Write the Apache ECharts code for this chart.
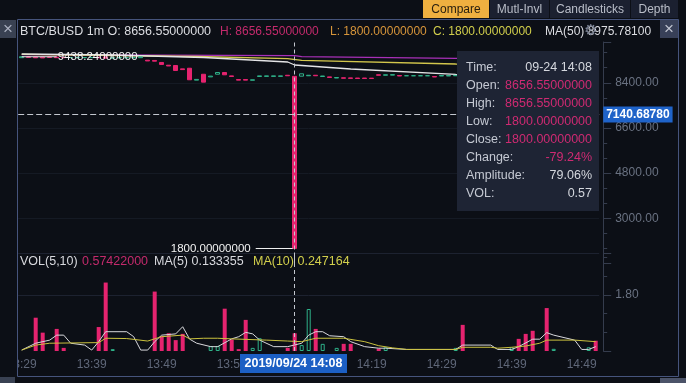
<!DOCTYPE html>
<html><head><meta charset="utf-8">
<script src="https://cdn.jsdelivr.net/npm/echarts@6/dist/echarts.min.js"></script>
<style>html,body{margin:0;padding:0;background:#0c0f16;}#c{width:686px;height:383px;}</style>
</head><body><div id="c"></div><script>
const categories = [
'13:29','13:30','13:31','13:32','13:33','13:34','13:35','13:36','13:37','13:38',
'13:39','13:40','13:41','13:42','13:43','13:44','13:45','13:46','13:47','13:48',
'13:49','13:50','13:51','13:52','13:53','13:54','13:55','13:56','13:57','13:58',
'13:59','14:00','14:01','14:02','14:03','14:04','14:05','14:06','14:07','14:08',
'14:09','14:10','14:11','14:12','14:13','14:14','14:15','14:16','14:17','14:18',
'14:19','14:20','14:21','14:22','14:23','14:24','14:25','14:26','14:27','14:28',
'14:29','14:30','14:31','14:32','14:33','14:34','14:35','14:36','14:37','14:38',
'14:39','14:40','14:41','14:42','14:43','14:44','14:45','14:46','14:47','14:48',
'14:49','14:50','14:51'];
const opens = [
9400,9430,9425,9420,9420,9425,9410,9405,9405,9405,
9405,9420,9430,9380,9400,9400,9400,9400,9300,9290,
9210,9100,9089,8955,8980,8505,8740,8635,8742,8810,
8675,8530,8530,8500,8650,8655,8655,8655,8700,8656.55,
8663,8680,8700,8650,8635,8590,8600,8595,8590,8590,
8585,8720,8700,8705,8690,8680,8680,8680,8680,8650,
8670,8670,8680,8700,8670,8670,8670,8670,8670,8670,
8660,8690,8690,8680,8660,8700,8640,8660,8660,8660,
8660,8650,8690];
const closes = [
9438.24,9415,9395,9390,9410,9400,9400,9405,9405,9405,
9405,9395,9380,9400,9400,9400,9400,9430,9270,9260,
9130,9070,8890,8925,8520,8535,8425,8665,8810,8718,
8650,8505,8505,8520,8675,8675,8675,8675,8680,1800,
8758,8700,8680,8670,8610,8610,8580,8575,8570,8570,
8570,8700,8720,8725,8670,8680,8680,8680,8680,8630,
8690,8690,8695,8660,8670,8670,8670,8670,8670,8670,
8680,8670,8660,8650,8660,8620,8660,8660,8660,8660,
8660,8670,8660];
const lows = [
9400,9415,9395,9390,9410,9400,9400,9405,9405,9405,
9405,9395,9380,9380,9400,9400,9400,9400,9270,9260,
9130,9070,8890,8925,8520,8505,8425,8635,8742,8718,
8650,8505,8505,8500,8650,8655,8655,8655,8680,1800,
8663,8680,8680,8650,8610,8590,8580,8575,8570,8570,
8570,8700,8700,8705,8670,8680,8680,8680,8680,8630,
8670,8670,8680,8660,8670,8670,8670,8670,8670,8670,
8660,8670,8660,8650,8660,8620,8640,8660,8660,8660,
8660,8650,8660];
const highs = [
9438.24,9430,9425,9420,9420,9425,9410,9405,9405,9405,
9405,9420,9430,9400,9400,9400,9400,9430,9300,9290,
9210,9100,9089,8955,8980,8535,8740,8665,8810,8810,
8675,8530,8530,8520,8675,8675,8675,8675,8700,8656.55,
8758,8700,8700,8670,8635,8610,8600,8595,8590,8590,
8585,8720,8720,8725,8690,8680,8680,8680,8680,8650,
8690,8690,8695,8700,8670,8670,8670,8670,8670,8670,
8680,8690,8690,8680,8660,8700,8660,8660,8660,8660,
8660,8670,8690];
const volumes = [
0,0,1.07,0.59,0,0.71,0.10,0,0,0,
0,0.77,2.20,0.06,0,0,0,0,0,1.91,
0.48,0.57,0.35,0.55,0,0,0,0.16,0.16,1.36,
0.37,0.06,1.00,0.10,0.41,0,0,0,0.10,0.57,
0.19,1.35,0.71,0.23,0,0.10,0.23,0.23,0,0,
0,0.08,0.12,0,0,0,0,0,0,0,
0,0,0.10,0.84,0,0,0,0,0,0,
0.12,0.39,0.55,0.65,0,1.38,0.07,0,0,0,
0,0.12,0.33];
// main chart average lines, read at break points
const maPurple = [['13:29',9520],['14:08',9480],['14:09',9440],['14:31',9376],['14:51',9328]];
const maYellow = [['13:29',9535],['13:54',9448],['14:07',9360],['14:09',9296],['14:31',9149],['14:51',9030]];
const maWhite = [['13:29',9547],['13:42',9508],['13:55',9408],['14:07',9229],['14:08',9109],['14:16',8950],['14:31',8739],['14:51',8551]];
// volume average lines, read at break points
const volMa5 = [['13:29',0.03],['13:31',0.25],['13:33',0.35],['13:34',0.51],['13:35',0.51],['13:36',0.25],['13:38',0.19],['13:39',0.03],['13:40',0.30],['13:41',0.62],['13:44',0.62],['13:45',0.46],['13:46',0.03],['13:47',0.03],['13:48',0.30],['13:49',0.51],['13:51',0.55],['13:52',0.78],['13:53',0.38],['13:54',0.25],['13:56',0.14],['13:57',0.14],['13:59',0.39],['14:00',0.46],['14:01',0.60],['14:02',0.55],['14:03',0.35],['14:05',0.14],['14:07',0.14],['14:09',0.25],['14:10',0.51],['14:11',0.62],['14:12',0.62],['14:13',0.49],['14:15',0.46],['14:16',0.30],['14:18',0.14],['14:20',0.09],['14:21',0.09],['14:24',0.05],['14:31',0.05],['14:32',0.19],['14:36',0.19],['14:37',0.05],['14:39',0.05],['14:40',0.14],['14:42',0.38],['14:43',0.38],['14:44',0.59],['14:45',0.51],['14:48',0.35],['14:49',0.05],['14:50',0.05],['14:51',0.14]];
const volMa10 = [['13:29',0.03],['13:31',0.19],['13:33',0.25],['13:40',0.27],['13:41',0.41],['13:44',0.40],['13:47',0.32],['13:49',0.46],['13:52',0.51],['13:53',0.39],['13:55',0.41],['13:57',0.41],['13:59',0.39],['14:04',0.35],['14:07',0.32],['14:09',0.30],['14:11',0.41],['14:15',0.41],['14:18',0.30],['14:20',0.17],['14:22',0.10],['14:24',0.05],['14:31',0.05],['14:32',0.12],['14:36',0.12],['14:37',0.09],['14:39',0.12],['14:41',0.16],['14:43',0.25],['14:44',0.35],['14:48',0.35],['14:51',0.30]];
const priceTicks = { min: 1200, max: 10025, interval: 1800 };
const volTicks = { min: 0, max: 3.15, interval: 1.8 };

const PINK = '#e6236f', GREEN = '#2fb38a', BG = '#0c0f16';
const FONT = "'Liberation Sans', Arial, sans-serif";
const AXC = '#6a7282', LINEC = '#353c4d', SPLIT = '#151a24';

function txt(x, y, text, fill, size, align, weight) {
  return { type: 'text', z: 100, style: { x: x, y: y, text: text, fill: fill,
    font: (weight || 'normal') + ' ' + size + 'px ' + FONT, align: align || 'left', verticalAlign: 'middle' } };
}
function rect(x, y, w, h, fill, extra) {
  return Object.assign({ type: 'rect', z: 99, shape: { x: x, y: y, width: w, height: h }, style: { fill: fill } }, extra || {});
}

const gridL = 18.2, gridW = 581;
const chart = echarts.init(document.getElementById('c'), null, { renderer: 'canvas' });
const dashStyle = { color: '#c3c7cf', type: [4, 3], width: 1 };

const option = {
  backgroundColor: BG,
  animation: false,
  grid: [
    { left: gridL, width: gridW, top: 42, height: 221.5, outerBoundsMode: 'none' },
    { left: gridL, width: gridW, top: 253, height: 98, outerBoundsMode: 'none' }
  ],
  xAxis: [
    { type: 'category', gridIndex: 0, data: categories, boundaryGap: true,
      axisLine: { show: false }, axisTick: { show: false }, axisLabel: { show: false }, splitLine: { show: false } },
    { type: 'category', gridIndex: 1, data: categories, boundaryGap: true,
      axisLine: { show: false }, axisTick: { show: false }, splitLine: { show: false },
      axisLabel: { interval: 9, color: '#5f6779', fontSize: 12, fontFamily: FONT, margin: 8 } }
  ],
  yAxis: [
    { type: 'value', gridIndex: 0, position: 'right', offset: 4,
      min: priceTicks.min, max: priceTicks.max, interval: priceTicks.interval,
      axisLine: { show: true, lineStyle: { color: LINEC } },
      axisTick: { show: true, length: 8, lineStyle: { color: LINEC } },
      minorTick: { show: true, splitNumber: 3, length: 4, lineStyle: { color: LINEC } },
      axisLabel: { margin: 12, color: AXC, fontSize: 12, fontFamily: FONT, showMinLabel: false, showMaxLabel: false,
        formatter: v => v.toFixed(2) },
      splitLine: { show: true, showMinLine: false, showMaxLine: false, lineStyle: { color: SPLIT } } },
    { type: 'value', gridIndex: 1, position: 'right', offset: 4,
      min: volTicks.min, max: volTicks.max, interval: volTicks.interval,
      axisLine: { show: true, lineStyle: { color: LINEC } },
      axisTick: { show: true, length: 8, lineStyle: { color: LINEC } },
      minorTick: { show: true, splitNumber: 3, length: 4, lineStyle: { color: LINEC } },
      axisLabel: { margin: 12, color: AXC, fontSize: 12, fontFamily: FONT, showMinLabel: false, showMaxLabel: false,
        formatter: v => v.toFixed(2) },
      splitLine: { show: true, showMinLine: false, showMaxLine: true, lineStyle: { color: '#1d2230' } } }
  ],
  series: [
    { type: 'line', xAxisIndex: 0, yAxisIndex: 0, data: maPurple, showSymbol: false, symbol: 'none',
      lineStyle: { color: '#a830b8', width: 1.3 }, z: 1 },
    { type: 'line', xAxisIndex: 0, yAxisIndex: 0, data: maYellow, showSymbol: false, symbol: 'none',
      lineStyle: { color: '#d2c64c', width: 1.3 }, z: 1 },
    { type: 'line', xAxisIndex: 0, yAxisIndex: 0, data: maWhite, showSymbol: false, symbol: 'none',
      lineStyle: { color: '#e4e4e6', width: 1.3 }, z: 1 },
    { type: 'candlestick', xAxisIndex: 0, yAxisIndex: 0, barWidth: 4, z: 2,
      data: categories.map((c, i) => [opens[i], closes[i], lows[i], highs[i]]),
      itemStyle: { color: 'transparent', color0: PINK, borderColor: GREEN, borderColor0: PINK, borderWidth: 1 },
      markLine: { silent: true, symbol: ['none', 'none'], lineStyle: dashStyle,
        data: [
          { xAxis: '14:08', label: { show: false } },
          { yAxis: 7140.6878, lineStyle: { color: '#c3c7cf', type: [6, 3], width: 1 },
            label: { show: true, position: 'end', distance: 4, formatter: '7140.68780', color: '#ffffff',
              backgroundColor: '#1f63c9', fontWeight: 'bold', fontSize: 12, fontFamily: FONT, padding: [2, 3, 2, 3] } }
        ] },
      markPoint: { silent: true,
        data: [
          { coord: ['13:29', 9438.24], symbol: 'rect', symbolSize: [35, 1], symbolOffset: [17.5, 0],
            itemStyle: { color: '#f0f0f0' },
            label: { show: true, position: 'right', distance: 1, formatter: '9438.24000000', color: '#f2f2f2', fontSize: 11.5, fontFamily: FONT } },
          { coord: ['14:08', 1800], symbol: 'rect', symbolSize: [37, 1], symbolOffset: [-20.5, 0],
            itemStyle: { color: '#f0f0f0' },
            label: { show: true, position: 'left', distance: 5, formatter: '1800.00000000', color: '#f2f2f2', fontSize: 11.5, fontFamily: FONT } }
        ] } },
    { type: 'bar', xAxisIndex: 1, yAxisIndex: 1, barWidth: 4, z: 2,
      data: volumes.map((v, i) => v ? { value: v, itemStyle: closes[i] > opens[i]
        ? { color: 'transparent', borderColor: GREEN, borderWidth: 1 } : { color: PINK } } : null),
      markLine: { silent: true, symbol: ['none', 'none'], lineStyle: dashStyle, label: { show: false },
        data: [{ xAxis: '14:08' }] } },
    { type: 'line', xAxisIndex: 1, yAxisIndex: 1, data: volMa5, showSymbol: false, symbol: 'none',
      lineStyle: { color: '#d8d8dc', width: 1 }, z: 3 },
    { type: 'line', xAxisIndex: 1, yAxisIndex: 1, data: volMa10, showSymbol: false, symbol: 'none',
      lineStyle: { color: '#cbc23e', width: 1 }, z: 3 }
  ],
  graphic: [
    // left strip covering clipped axis label
    rect(0, 0, 17, 383, BG),
    rect(0, 20, 16, 18, '#394152'),
    txt(8, 29, '×', '#aab0c0', 17, 'center'),
    rect(0, 377, 15, 6, '#394152'),
    // top buttons
    rect(423, 0, 66, 18, '#efb040'),
    txt(456, 9.5, 'Compare', '#2b2110', 12, 'center'),
    rect(490, 0, 59, 18, '#1b2030'),
    txt(519.5, 9.5, 'Mutl-Invl', '#b9bdc8', 12, 'center'),
    rect(550, 0, 80, 18, '#1b2030'),
    txt(590, 9.5, 'Candlesticks', '#b9bdc8', 12, 'center'),
    rect(631, 0, 47, 18, '#1b2030'),
    txt(654.5, 9.5, 'Depth', '#b9bdc8', 12, 'center'),
    // panel border
    { type: 'rect', z: 98, shape: { x: 17.5, y: 19.5, width: 661, height: 357 }, style: { fill: null, stroke: '#46547c', lineWidth: 1 } },
    rect(660, 20, 18, 18, '#384058'),
    txt(669, 29, '×', '#c0c4d0', 17, 'center'),
    rect(660, 378, 26, 5, '#4b5368'),
    // header
    txt(20, 31.5, 'BTC/BUSD 1m O: 8656.55000000', '#dcdde2', 12.5),
    txt(220, 31.5, 'H: 8656.55000000', '#c42a6c', 12),
    txt(330, 31.5, 'L: 1800.00000000', '#d7953a', 12),
    txt(433, 31.5, 'C: 1800.00000000', '#d2cf4c', 12),
    txt(545, 31.5, 'MA(50) 8975.78100', '#dcdde2', 12),
    txt(590, 31, '⚙', '#7c8394', 15, 'center'),
    // volume header
    txt(20, 262, 'VOL(5,10)', '#d8d9de', 12.5),
    txt(82, 262, '0.57422000', '#c42a6c', 12.5),
    txt(154, 262, 'MA(5) 0.133355', '#d8d9de', 12.5),
    txt(253, 262, 'MA(10) 0.247164', '#d2cf4c', 12.5),
    // info box
    rect(457, 51, 142, 160, '#1e2434'),
    txt(466, 67.5, 'Time:', '#c5c9d3', 12.5), txt(592, 67.5, '09-24 14:08', '#d5d8de', 12.5, 'right'),
    txt(466, 85.5, 'Open:', '#c5c9d3', 12.5), txt(592, 85.5, '8656.55000000', '#cf2a72', 12.5, 'right'),
    txt(466, 103.5, 'High:', '#c5c9d3', 12.5), txt(592, 103.5, '8656.55000000', '#cf2a72', 12.5, 'right'),
    txt(466, 121.5, 'Low:', '#c5c9d3', 12.5), txt(592, 121.5, '1800.00000000', '#cf2a72', 12.5, 'right'),
    txt(466, 139.5, 'Close:', '#c5c9d3', 12.5), txt(592, 139.5, '1800.00000000', '#cf2a72', 12.5, 'right'),
    txt(466, 157.5, 'Change:', '#c5c9d3', 12.5), txt(592, 157.5, '-79.24%', '#cf2a72', 12.5, 'right'),
    txt(466, 175.5, 'Amplitude:', '#c5c9d3', 12.5), txt(592, 175.5, '79.06%', '#d5d8de', 12.5, 'right'),
    txt(466, 193.5, 'VOL:', '#c5c9d3', 12.5), txt(592, 193.5, '0.57', '#d5d8de', 12.5, 'right'),
    // crosshair time label
    rect(240, 354, 107, 19, '#1c5fc4'),
    txt(293.5, 363.5, '2019/09/24 14:08', '#ffffff', 12.5, 'center', 'bold')
  ]
};
chart.setOption(option);
</script></body></html>
